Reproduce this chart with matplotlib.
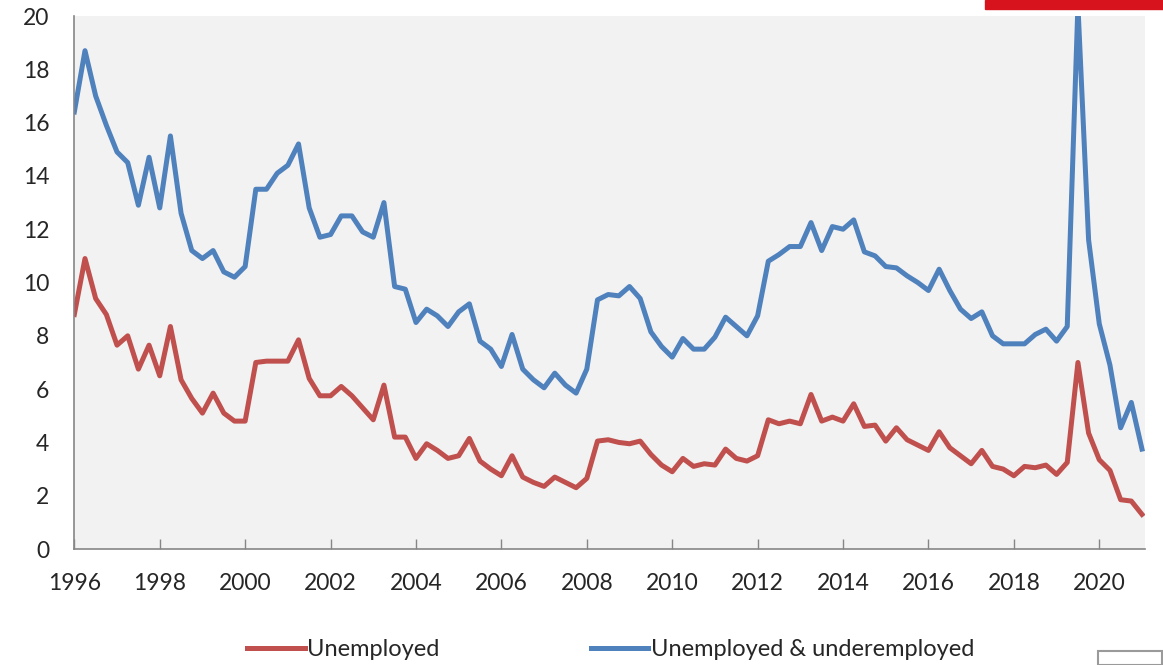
import matplotlib.pyplot as plt
from matplotlib.patches import Rectangle
import numpy as np

# quarterly series, 1996Q1 .. 2021Q1 (per cent of labour force)
start_year = 1996
unemployed = [8.8, 10.9, 9.4, 8.8, 7.65, 8.0, 6.75, 7.65, 6.5, 8.35,
              6.35, 5.65, 5.1, 5.85, 5.1, 4.8, 4.8, 7.0, 7.05, 7.05,
              7.05, 7.85, 6.4, 5.75, 5.75, 6.1, 5.75, 5.3, 4.85, 6.15,
              4.2, 4.2, 3.4, 3.95, 3.7, 3.4, 3.5, 4.15, 3.3, 3.0,
              2.75, 3.5, 2.7, 2.5, 2.35, 2.7, 2.5, 2.3, 2.65, 4.05,
              4.1, 4.0, 3.95, 4.05, 3.55, 3.15, 2.9, 3.4, 3.1, 3.2,
              3.15, 3.75, 3.4, 3.3, 3.5, 4.85, 4.7, 4.8, 4.7, 5.8,
              4.8, 4.95, 4.8, 5.45, 4.6, 4.65, 4.05, 4.55, 4.1, 3.9,
              3.7, 4.4, 3.8, 3.5, 3.2, 3.7, 3.1, 3.0, 2.75, 3.1,
              3.05, 3.15, 2.8, 3.25, 7.0, 4.35, 3.35, 2.95, 1.85, 1.8, 1.3]
under = [16.4, 18.7, 17.0, 15.9, 14.9, 14.5, 12.9, 14.7, 12.8, 15.5,
         12.6, 11.2, 10.9, 11.2, 10.4, 10.2, 10.6, 13.5, 13.5, 14.1,
         14.4, 15.2, 12.8, 11.7, 11.8, 12.5, 12.5, 11.9, 11.7, 13.0,
         9.85, 9.75, 8.5, 9.0, 8.75, 8.35, 8.9, 9.2, 7.8, 7.5,
         6.85, 8.05, 6.75, 6.35, 6.05, 6.6, 6.15, 5.85, 6.75, 9.35,
         9.55, 9.5, 9.85, 9.4, 8.15, 7.6, 7.2, 7.9, 7.5, 7.5,
         7.95, 8.7, 8.35, 8.0, 8.75, 10.8, 11.05, 11.35, 11.35, 12.25,
         11.2, 12.1, 12.0, 12.35, 11.15, 11.0, 10.6, 10.55, 10.25, 10.0,
         9.7, 10.5, 9.7, 9.0, 8.65, 8.9, 8.0, 7.7, 7.7, 7.7,
         8.05, 8.25, 7.8, 8.35, 20.4, 11.6, 8.45, 6.9, 4.55, 5.5, 3.75]
year_ticks = list(range(1996, 2021, 2))
y_ticks = list(range(0, 21, 2))

t = start_year + np.arange(len(unemployed)) / 4.0

plt.rcParams['font.family'] = ['Lato', 'DejaVu Sans']

fig = plt.figure(figsize=(11.63, 6.65), dpi=100)
ax = fig.add_axes([0.0639, 0.1744, 0.9206, 0.8015])
ax.set_facecolor('#f2f2f2')

ax.plot(t, unemployed, color='#c0504d', lw=3.6, solid_joinstyle='round', label='Unemployed')
ax.plot(t, under, color='#4f81bd', lw=3.6, solid_joinstyle='round', label='Unemployed & underemployed')

ax.set_xlim(1996, 2021.07)
ax.set_ylim(0, 20)
ax.set_xticks(year_ticks)
ax.set_yticks(y_ticks)
ax.tick_params(axis='x', direction='in', length=7, width=1, color='#868686',
               labelsize=16.5, labelcolor='#262626', pad=17)
ax.tick_params(axis='y', length=0, labelsize=16.5, labelcolor='#262626', pad=18)

for s in ['top', 'right']:
    ax.spines[s].set_visible(False)
for s in ['left', 'bottom']:
    ax.spines[s].set_color('#868686')
    ax.spines[s].set_linewidth(1.2)

fig.legend(loc='center', bbox_to_anchor=(0.525, 0.0226), ncol=2, frameon=False,
           fontsize=17, handlelength=2.45, handletextpad=0.1, columnspacing=6.4,
           labelcolor='#262626')

# screenshot leftovers: red banner top right, icon bottom right
fig.patches.append(Rectangle((985 / 1163, 1 - 9 / 665), 178 / 1163, 9 / 665,
                             transform=fig.transFigure, color='#d7141e', zorder=5))
fig.patches.append(Rectangle((1098 / 1163, 0), 64 / 1163, 14 / 665,
                             transform=fig.transFigure, fill=False,
                             edgecolor='#9a9a9a', lw=1.5, zorder=5))

plt.savefig('out.png', dpi=100)
